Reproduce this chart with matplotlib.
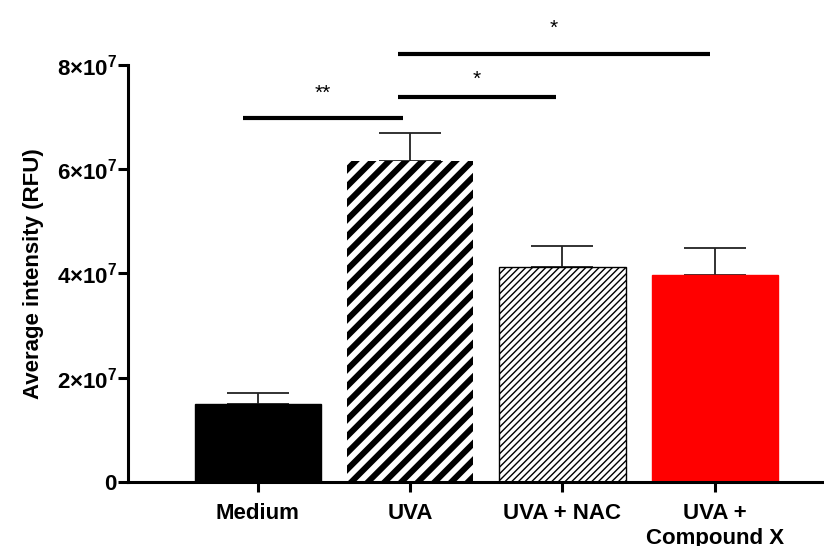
import matplotlib
matplotlib.use("Agg")
import matplotlib.pyplot as plt
import numpy as np

# data
groups = ["Medium", "UVA", "UVA + NAC", "UVA +\nCompound X"]
means = [1.50e7, 6.16e7, 4.13e7, 3.97e7]
errors = [0.21e7, 0.54e7, 0.40e7, 0.52e7]
colors = ["black", "white", "white", "red"]
hatches = [None, "//", "/////", None]

# significance brackets: (x start, x end, y, label, label y)
sig_x0 = [-0.1, 0.92, 0.92]
sig_x1 = [0.95, 1.96, 2.97]
sig_y = [6.99e7, 7.39e7, 8.21e7]
sig_text = ["**", "*", "*"]
sig_text_y = [7.45e7, 7.72e7, 8.70e7]

plt.rcParams["font.family"] = ["Liberation Sans", "DejaVu Sans"]
plt.rcParams["mathtext.fontset"] = "custom"
plt.rcParams["mathtext.rm"] = "Liberation Sans"
plt.rcParams["mathtext.bf"] = "Liberation Sans:bold"

fig = plt.figure(figsize=(8.24, 5.46), dpi=100)
ax = fig.add_axes([0.1553, 0.1172, 0.86, 0.764])

x = np.arange(len(groups))
bars = ax.bar(x, means, width=0.83, color=colors, edgecolor="black", linewidth=1.0, zorder=2)
for b, h, c in zip(bars, hatches, colors):
    if h:
        b.set_hatch(h)
    if c == "red":
        b.set_edgecolor("red")
bars[1].set_hatch_linewidth(4.3)
bars[1].set_linewidth(0)
bars[2].set_hatch_linewidth(1.0)

ax.errorbar(x, means, yerr=[np.zeros(len(means)), errors], fmt="none",
            ecolor="#222222", elinewidth=1.3, capsize=22, capthick=1.3, zorder=1)

for x0, x1, y, t, ty in zip(sig_x0, sig_x1, sig_y, sig_text, sig_text_y):
    ax.plot([x0, x1], [y, y], color="black", lw=3, clip_on=False, solid_capstyle="butt")
    ax.text((x0 + x1) / 2, ty, t, ha="center", va="center", fontsize=15)

ax.set_xlim(-0.853, 3.8)
ax.set_ylim(0, 8e7)
ax.set_yticks([0, 2e7, 4e7, 6e7, 8e7])
ax.set_yticklabels(["0"] + [r"$\mathbf{%d{\times}10^{7}}$" % v for v in (2, 4, 6, 8)])
ax.set_xticks(x)
ax.set_xticklabels(groups, fontweight="bold", fontsize=16, linespacing=1.25)
ax.tick_params(axis="y", labelsize=16, width=2.2, length=7, pad=1)
ax.tick_params(axis="x", width=2.2, length=7, pad=8)
for lab in ax.get_yticklabels():
    lab.set_fontweight("bold")

ax.spines["top"].set_visible(False)
ax.spines["right"].set_visible(False)
ax.spines["left"].set_linewidth(2.2)
ax.spines["bottom"].set_linewidth(2.2)

ax.set_ylabel("Average intensity (RFU)", fontsize=16, fontweight="bold", labelpad=9)

fig.savefig("out.png", dpi=100)
